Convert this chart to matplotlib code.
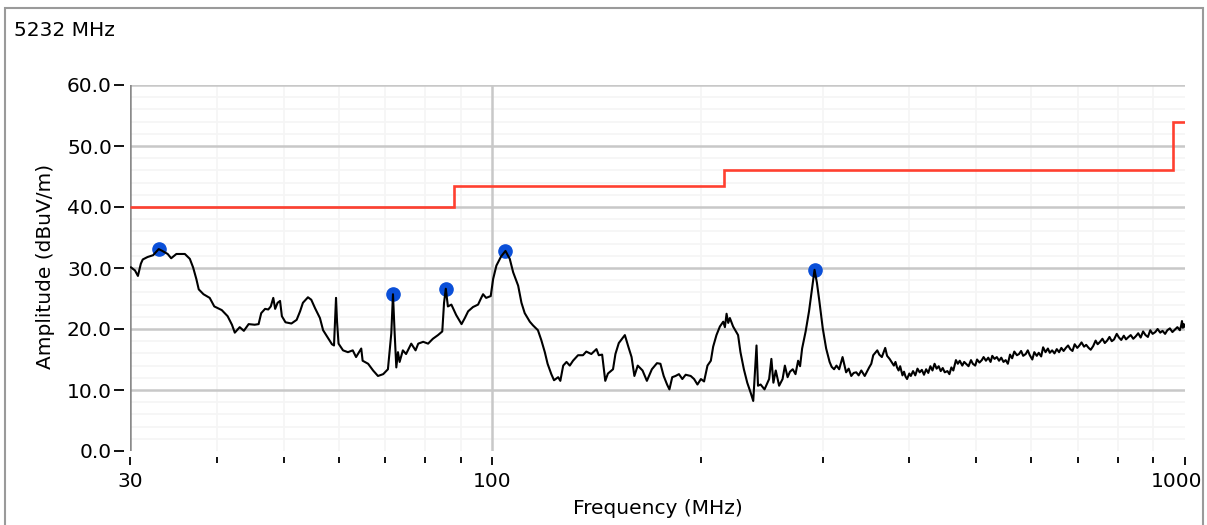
import numpy as np
import matplotlib.pyplot as plt
import matplotlib.transforms as mtransforms
from matplotlib.ticker import FixedLocator, NullFormatter
from matplotlib.patches import Rectangle

plt.rcParams['font.family'] = ['DejaVu Sans']

# measured sweep (MHz, dBuV/m), ten points per row
freq_mhz = [30.1, 30.5, 30.8, 31.1, 31.3, 31.8, 32.4, 33.0, 33.4, 34.0,
            34.4, 35.0, 36.0, 36.6, 37.0, 37.4, 37.7, 38.3, 39.1, 39.7,
            40.7, 41.5, 42.1, 42.5, 43.2, 43.8, 44.5, 45.4, 46.0, 46.4,
            47.0, 47.5, 47.9, 48.3, 48.6, 49.0, 49.4, 49.7, 50.3, 51.3,
            52.2, 52.8, 53.3, 54.2, 54.8, 55.5, 56.4, 57.0, 57.8, 58.7,
            59.1, 59.3, 59.5, 59.7, 60.0, 60.9, 61.9, 62.9, 63.6, 64.7,
            65.0, 66.2, 67.3, 68.4, 69.6, 70.7, 71.5, 71.9, 72.3, 72.7,
            73.1, 73.5, 74.3, 75.1, 76.4, 77.5, 78.2, 79.5, 80.8, 82.1,
            83.5, 84.7, 85.2, 85.7, 86.3, 87.3, 88.7, 90.3, 91.3, 92.3,
            93.8, 95.4, 96.4, 97.0, 98.0, 99.5, 100.3, 101.4, 103.0, 104.5,
            106.0, 107.2, 109.0, 110.2, 111.4, 113.3, 114.5, 116.4, 117.7, 119.1,
            120.2, 121.7, 122.8, 124.5, 125.4, 126.6, 128.0, 129.4, 130.8, 133.0,
            135.2, 136.7, 139.0, 141.4, 142.5, 144.1, 145.6, 146.9, 149.4, 150.6,
            152.3, 155.4, 157.2, 158.9, 160.4, 162.2, 164.8, 167.2, 170.0, 172.9,
            174.9, 176.8, 178.8, 180.2, 181.9, 183.9, 186.0, 188.1, 190.2, 193.4,
            195.6, 197.8, 200.1, 202.2, 204.5, 206.8, 208.4, 210.7, 213.1, 215.5,
            216.7, 217.9, 219.1, 220.3, 222.7, 226.4, 228.2, 230.8, 233.4, 236.0,
            238.1, 239.1, 240.7, 241.9, 244.0, 247.2, 251.0, 252.9, 254.6, 256.6,
            259.5, 262.5, 264.5, 266.9, 269.0, 271.5, 274.0, 276.4, 278.2, 280.1,
            283.4, 286.6, 289.2, 291.9, 294.2, 296.6, 300.0, 303.4, 306.9, 309.0,
            311.5, 314.0, 316.8, 320.4, 324.2, 327.0, 329.8, 332.5, 335.3, 338.0,
            341.0, 344.9, 350.0, 352.5, 354.8, 359.6, 362.0, 365.1, 369.2, 371.5,
            374.6, 377.5, 380, 382, 384, 386, 388, 391, 393, 395,
            397, 400, 402, 405, 408, 411, 414, 417, 420, 423,
            426, 429, 432, 435, 438, 441, 444, 447, 450, 454,
            457, 460, 463, 467, 470, 473, 477, 480, 484, 487,
            491, 494, 498, 501, 505, 509, 512, 516, 520, 524,
            527, 531, 535, 539, 543, 547, 551, 555, 559, 563,
            567, 572, 576, 580, 584, 589, 593, 597, 602, 606,
            611, 615, 620, 624, 629, 634, 638, 643, 648, 653,
            658, 663, 668, 673, 678, 683, 688, 693, 699, 704,
            709, 715, 720, 726, 731, 737, 743, 748, 754, 760,
            766, 772, 778, 784, 790, 797, 803, 809, 816, 822,
            829, 835, 842, 849, 856, 863, 870, 877, 884, 891,
            898, 906, 913, 921, 928, 936, 943, 951, 959, 967,
            975, 983, 987, 990, 993, 996, 999]
amp_dbuv = [30.1, 29.6, 28.7, 30.7, 31.4, 31.8, 32.1, 33.1, 32.8, 32.3,
            31.6, 32.3, 32.3, 31.5, 30.1, 28.2, 26.5, 25.7, 25.1, 23.7,
            23.1, 22.1, 20.7, 19.4, 20.3, 19.7, 20.8, 20.7, 20.8, 22.6,
            23.3, 23.2, 23.7, 25.1, 23.3, 24.3, 24.6, 22.1, 21.1, 20.9,
            21.5, 22.9, 24.3, 25.2, 24.8, 23.4, 21.8, 19.8, 18.7, 17.5,
            17.3, 21.2, 25.1, 21.2, 17.6, 16.5, 16.2, 16.5, 15.4, 16.8,
            14.8, 14.3, 13.2, 12.3, 12.6, 13.4, 19.3, 25.7, 19.3, 13.7,
            16.2, 14.6, 16.5, 15.9, 17.6, 16.5, 17.6, 17.9, 17.6, 18.4,
            19.0, 19.6, 24.3, 26.6, 23.7, 24.0, 22.3, 20.8, 21.8, 22.9,
            23.6, 24.0, 25.1, 25.7, 25.1, 25.4, 28.2, 30.4, 31.9, 32.8,
            31.5, 29.3, 27.1, 24.3, 22.6, 21.2, 20.6, 19.8, 18.2, 16.2,
            14.3, 12.6, 11.6, 12.1, 11.5, 14.0, 14.6, 14.0, 14.8, 15.7,
            15.7, 16.3, 15.9, 16.7, 15.7, 15.8, 11.5, 12.7, 13.4, 15.9,
            17.7, 19.0, 17.1, 15.4, 12.3, 14.0, 13.2, 11.5, 13.4, 14.4,
            14.3, 12.3, 10.9, 10.1, 12.1, 12.3, 12.6, 11.8, 12.5, 12.3,
            11.8, 10.9, 11.8, 11.4, 14.0, 14.8, 17.1, 19.0, 20.4, 21.2,
            20.3, 22.5, 21.0, 21.8, 20.4, 19.0, 16.2, 13.4, 11.2, 9.6,
            8.2, 11.8, 17.3, 10.7, 10.9, 10.1, 11.8, 15.1, 11.2, 13.2,
            10.7, 11.8, 14.0, 12.1, 13.0, 13.4, 12.6, 14.8, 13.9, 16.8,
            19.6, 22.9, 26.2, 29.7, 27.6, 24.6, 20.1, 16.8, 14.6, 13.8,
            13.4, 14.0, 13.4, 15.4, 12.9, 13.5, 12.3, 12.8, 12.9, 12.4,
            13.2, 12.3, 13.7, 14.3, 15.7, 16.5, 15.8, 15.4, 16.9, 15.6,
            15.1, 14.5, 14.0, 14.6, 13.7, 13.2, 13.9, 12.4, 13.0, 12.2,
            11.8, 12.7, 12.3, 13.1, 12.4, 13.5, 12.9, 13.3, 12.5, 13.4,
            12.8, 13.9, 13.2, 14.3, 13.5, 13.9, 13.1, 13.6, 12.9, 13.1,
            12.6, 13.7, 13.2, 14.9, 14.3, 14.8, 14.0, 14.6, 14.2, 13.9,
            14.9, 14.3, 14.0, 15.0, 14.5, 14.9, 15.4, 14.8, 15.3, 14.6,
            15.6, 15.1, 15.4, 14.8, 15.3, 14.6, 14.9, 14.3, 15.8, 15.2,
            16.3, 15.7, 15.9, 16.4, 15.6, 15.9, 16.5, 15.7, 15.0, 16.2,
            15.6, 16.1, 15.5, 17.0, 16.2, 16.8, 16.1, 16.5, 16.0, 16.7,
            16.2, 16.9, 16.4, 16.9, 17.3, 16.7, 16.4, 17.5, 16.9, 17.3,
            17.8, 17.1, 17.4, 16.9, 16.6, 17.2, 18.1, 17.5, 17.9, 18.4,
            17.7, 18.1, 18.7, 18.0, 18.3, 19.2, 18.6, 18.2, 18.9, 18.3,
            18.7, 19.0, 18.4, 18.8, 19.3, 18.6, 19.6, 19.0, 18.7, 19.8,
            19.2, 19.5, 20.0, 19.4, 19.7, 19.2, 19.8, 20.1, 19.5, 19.9,
            20.3, 19.8, 20.5, 21.3, 20.2, 20.8, 20.4]

# peaks flagged by the analyser
peak_freq = [33.0, 71.9, 85.7, 104.5, 291.9]
peak_amp = [33.1, 25.7, 26.6, 32.8, 29.7]

# FCC class B radiated limit, 3 m
limit_edges = [30, 88, 216, 960, 1000]
limit_levels = [40.0, 43.5, 46.0, 54.0]

fs = 14.5

fig = plt.figure(figsize=(12.07, 5.25), dpi=100)
fig.patches.append(Rectangle((5 / 1207, -0.1), 1198 / 1207, 1 - 8 / 525 + 0.1,
                             transform=fig.transFigure, fill=False,
                             edgecolor='#9a9a9a', lw=1.5))
fig.text(14 / 1207, 1 - 31 / 525, '5232 MHz', fontsize=fs, va='center', ha='left')

ax = fig.add_axes([130 / 1207, 1 - 451 / 525, 1055 / 1207, 366 / 525])
ax.set_xscale('log')
ax.set_xlim(30, 1000)
ax.set_ylim(0, 60)

ax.plot(peak_freq, peak_amp, 'o', color='#0a4fd8', ms=9.5, zorder=3)
ax.plot(freq_mhz, amp_dbuv, color='black', lw=1.5, zorder=4)
ax.stairs(limit_levels, limit_edges, baseline=None, color='#ff4030', lw=1.9, zorder=4)

# axes furniture
ax.xaxis.set_major_locator(FixedLocator([30, 100, 1000]))
ax.xaxis.set_minor_locator(FixedLocator([40, 50, 60, 70, 80, 90, 200, 300, 400,
                                         500, 600, 700, 800, 900]))
ax.xaxis.set_minor_formatter(NullFormatter())
ax.set_xticklabels(['30', '100', '1000'])
ax.yaxis.set_major_locator(FixedLocator([0, 10, 20, 30, 40, 50, 60]))
ax.yaxis.set_minor_locator(FixedLocator([v for v in range(2, 60, 2) if v % 10]))
ax.set_yticklabels(['%.1f' % v for v in range(0, 70, 10)])

for s in ['top', 'right', 'bottom', 'left']:
    ax.spines[s].set_visible(False)
ax.spines['left'].set_position(('outward', 4))
ax.spines['bottom'].set_position(('outward', 4))
ax.axvline(30, color='#8a8a8a', lw=1.8, zorder=2)
ax.axvline(100, color='#c8c8c8', lw=1.8, zorder=1.5)

ax.tick_params(axis='y', which='major', length=7, width=1.3, pad=2, labelsize=fs)
ax.tick_params(axis='y', which='minor', length=0)
ax.tick_params(axis='x', which='major', length=6, width=1.3, pad=5, labelsize=fs)
ax.tick_params(axis='x', which='minor', length=4, width=1.3)

# keep the last x label inside the frame
last = ax.get_xticklabels()[-1]
last.set_transform(last.get_transform() +
                   mtransforms.ScaledTranslation(-0.08, 0, fig.dpi_scale_trans))

ax.set_axisbelow(True)
ax.grid(which='minor', color='#f5f5f5', lw=1.2)
ax.grid(which='major', axis='y', color='#c8c8c8', lw=1.8)
ax.yaxis.get_gridlines()[0].set_visible(False)

ax.set_xlabel('Frequency (MHz)', fontsize=fs)
ax.set_ylabel('Amplitude (dBuV/m)', fontsize=fs)
ax.xaxis.set_label_coords(0.5, -0.13)
ax.yaxis.set_label_coords(-0.071, 0.505)

fig.savefig('out.png', dpi=100)
